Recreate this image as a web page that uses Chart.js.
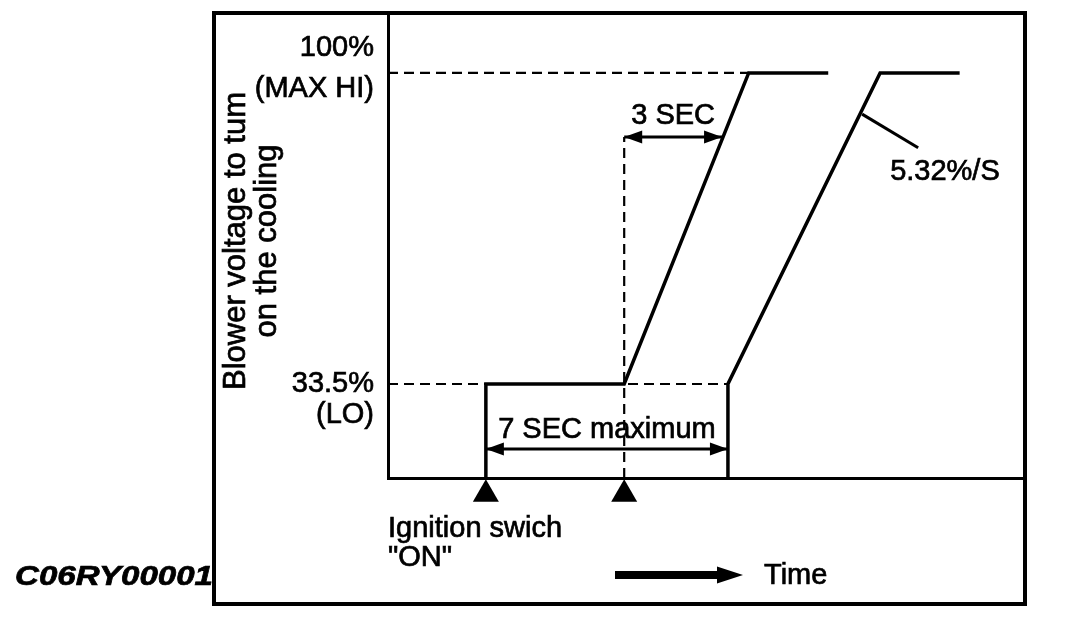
<!DOCTYPE html>
<html><head><meta charset="utf-8">
<script src="https://cdn.jsdelivr.net/npm/chart.js@4"></script>
<style>html,body{margin:0;padding:0;background:#fff}canvas{display:block}</style>
</head><body>
<canvas id="c" width="1072" height="630"></canvas>
<script>
// ---- data (time in seconds, level in %) ----
const xMin = -2.83, xMax = 15.59;
const yMin = 13.4, yMax = 112.6;
const levelValues = [100, 33.5];
const levelLabels = [["100%", "(MAX HI)"], ["33.5%", "(LO)"]];
const markerTimes = [0, 4];               // ignition ON, second marker
const markerLevel = 9.95;                 // triangles just below the time axis
const curveA_t = [0, 0, 4, 7.6, 9.9];
const curveA_v = [13.4, 33.5, 33.5, 100, 100];
const curveB_t = [7, 7, 11.4, 13.7];
const curveB_v = [13.4, 33.5, 100, 100];
const arrow3_t = [4, 6.83];  const arrow3_v = 86.3;
const arrow7_t = [0, 7];     const arrow7_v = 19.6;
const leader_t = [10.88, 12.5]; const leader_v = [91.2, 84.0];
const rateLabel = "5.32%/S"; const rateLabel_t = 11.69; const rateLabel_v = 78.8;
const yTitle = ["Blower voltage to tum", "on the cooling"];
const figId = "C06RY00001";

const zip = (ts, vs) => ts.map((t, i) => ({x: t, y: Array.isArray(vs) ? vs[i] : vs}));
const FONT = '"Liberation Sans", Arial, sans-serif';

const solid = (data, w) => ({data, borderColor: '#000', borderWidth: w || 3.5, pointRadius: 0, showLine: true, fill: false, tension: 0});
const dashed = (data) => ({data, borderColor: '#000', borderWidth: 2.2, borderDash: [10, 6], pointRadius: 0, showLine: true, fill: false});

const datasets = [
  dashed([{x: xMin, y: levelValues[0]}, {x: curveA_t[3], y: levelValues[0]}]),
  dashed([{x: xMin, y: levelValues[1]}, {x: curveB_t[0], y: levelValues[1]}]),
  dashed([{x: markerTimes[1], y: yMin}, {x: markerTimes[1], y: arrow3_v}]),
  solid(zip(curveA_t, curveA_v)),
  solid(zip(curveB_t, curveB_v)),
  solid(zip(arrow3_t, arrow3_v), 3),
  solid(zip(arrow7_t, arrow7_v), 3),
  solid(zip(leader_t, leader_v), 3),
  {data: markerTimes.map(t => ({x: t, y: markerLevel})), pointStyle: 'triangle', pointRadius: 15,
   pointHoverRadius: 40, backgroundColor: '#000', borderColor: '#000', borderWidth: 0,
   showLine: false, clip: false}
];

function arrowHead(ctx, x, y, dir) {
  const L = 18, W = 6.5;
  ctx.beginPath();
  ctx.moveTo(x, y);
  ctx.lineTo(x - dir * L, y - W);
  ctx.lineTo(x - dir * L, y + W);
  ctx.closePath();
  ctx.fill();
}
function txt(ctx, s, x, y) {
  ctx.fillText(s, x, y);
  ctx.strokeText(s, x, y);
}

const annot = {
  id: 'annot',
  afterDraw(chart) {
    const {ctx, chartArea: ca, scales: {x, y}} = chart;
    ctx.save();
    ctx.fillStyle = '#000'; ctx.strokeStyle = '#000';
    // outer frame
    ctx.lineWidth = 4;
    ctx.strokeRect(214, 13, 1025 - 214, 604 - 13);
    // arrowheads
    const a3y = y.getPixelForValue(arrow3_v);
    arrowHead(ctx, x.getPixelForValue(arrow3_t[0]), a3y, -1);
    arrowHead(ctx, x.getPixelForValue(arrow3_t[1]), a3y, 1);
    const a7y = y.getPixelForValue(arrow7_v);
    arrowHead(ctx, x.getPixelForValue(arrow7_t[0]), a7y, -1);
    arrowHead(ctx, x.getPixelForValue(arrow7_t[1]), a7y, 1);
    // text
    ctx.font = '29px ' + FONT;
    ctx.lineWidth = 0.7;
    ctx.textBaseline = 'middle';
    ctx.textAlign = 'right';
    const offs = [[-25, 16], [0, 31]];
    levelValues.forEach((v, i) => {
      const py = y.getPixelForValue(v);
      txt(ctx, levelLabels[i][0], ca.left - 14, py + offs[i][0]);
      txt(ctx, levelLabels[i][1], ca.left - 14, py + offs[i][1]);
    });
    ctx.textAlign = 'center';
    txt(ctx, '3 SEC', (x.getPixelForValue(arrow3_t[0]) + x.getPixelForValue(arrow3_t[1])) / 2, a3y - 21);
    txt(ctx, '7 SEC maximum', (x.getPixelForValue(arrow7_t[0]) + x.getPixelForValue(arrow7_t[1])) / 2, a7y - 19);
    ctx.textAlign = 'left';
    txt(ctx, rateLabel, x.getPixelForValue(rateLabel_t), y.getPixelForValue(rateLabel_v));
    txt(ctx, 'Ignition swich', ca.left, 529);
    txt(ctx, '"ON"', ca.left, 558);
    txt(ctx, 'Time', 764, 576);
    // time arrow
    ctx.fillRect(615, 571, 104, 8);
    ctx.beginPath(); ctx.moveTo(743, 575); ctx.lineTo(717, 566.5); ctx.lineTo(717, 583.5); ctx.closePath(); ctx.fill();
    // y title (rotated)
    ctx.save();
    ctx.font = '31px ' + FONT;
    ctx.translate(0, 241); ctx.rotate(-Math.PI / 2);
    ctx.textAlign = 'center'; ctx.textBaseline = 'alphabetic';
    txt(ctx, yTitle[0], 0, 245);
    txt(ctx, yTitle[1], 0, 276);
    ctx.restore();
    // figure id
    ctx.font = 'italic bold 27px ' + FONT;
    ctx.textAlign = 'left';
    const w = ctx.measureText(figId).width;
    ctx.save();
    ctx.translate(15, 578);
    ctx.scale(198 / w, 1);
    txt(ctx, figId, 0, 0);
    ctx.restore();
    ctx.restore();
  }
};

new Chart(document.getElementById('c'), {
  type: 'scatter',
  data: {datasets},
  options: {
    responsive: false, animation: false,
    layout: {autoPadding: false, padding: {left: 388, top: 14, right: 47, bottom: 152}},
    plugins: {legend: {display: false}, tooltip: {enabled: false}},
    scales: {
      x: {type: 'linear', min: xMin, max: xMax, ticks: {display: false},
          grid: {display: false, drawTicks: false}, border: {display: true, color: '#000', width: 3}},
      y: {type: 'linear', min: yMin, max: yMax, ticks: {display: false},
          grid: {display: false, drawTicks: false}, border: {display: true, color: '#000', width: 3}}
    }
  },
  plugins: [annot]
});
</script>
</body></html>
